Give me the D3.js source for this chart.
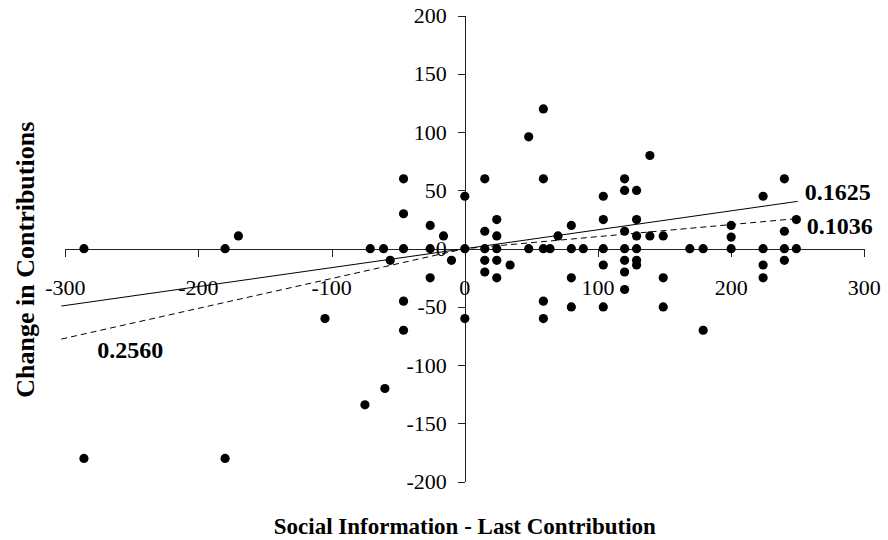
<!DOCTYPE html>
<html>
<head>
<meta charset="utf-8">
<script src="https://cdn.jsdelivr.net/npm/d3@7"></script>
<style>
  body { margin: 0; background: #fff; }
  svg { display: block; font-family: "Liberation Serif", "Times New Roman", serif; }
  .axis path, .axis line { stroke: #222; shape-rendering: crispEdges; }
  .tick-label { font-size: 22px; fill: #000; }
  .title { font-weight: bold; }
  .slope { font-size: 24px; font-weight: bold; }
</style>
</head>
<body>
<div id="chart"></div>
<script>
// social information - last contribution
const xs = [-286, -286, -180, -180, -170, -105, -75, -71, -61, -60, -56,
  -46, -46, -46, -46, -46, -26, -26, -26, -16, -10,
  0, 0, 0, 15, 15, 15, 15, 15, 24, 24, 24, 24, 24, 34, 48, 48,
  59, 59, 59, 59, 59, 64, 70, 80, 80, 80, 80, 89,
  104, 104, 104, 104, 104, 120, 120, 120, 120, 120, 120, 120,
  129, 129, 129, 129, 129, 129, 139, 139, 149, 149, 149, 169, 179, 179,
  200, 200, 200, 224, 224, 224, 224, 240, 240, 240, 240, 249, 249];
// change in contributions
const ys = [0, -180, 0, -180, 11, -60, -134, 0, 0, -120, -10,
  60, 30, 0, -45, -70, 20, 0, -25, 11, -10,
  45, 0, -60, 60, 15, 0, -10, -20, 25, 11, 0, -10, -25, -14, 96, 0,
  120, 60, 0, -45, -60, 0, 11, 20, 0, -25, -50, 0,
  45, 25, 0, -14, -50, 60, 50, 15, 0, -10, -20, -35,
  50, 25, 11, 0, -10, -14, 80, 11, 11, -25, -50, 0, 0, -70,
  20, 10, 0, 45, 0, -14, -25, 60, 15, 0, -10, 25, 0];

const xTicks = [-300, -200, -100, 0, 100, 200, 300];
const yTicks = [-200, -150, -100, -50, 0, 50, 100, 150, 200];

// fitted slopes: overall, and split for negative / positive differences
const slopeAll = 0.1625;
const slopeNeg = 0.2560;
const slopePos = 0.1036;
const fitRange = [-303, 250];

const width = 888, height = 540;
const svg = d3.select("#chart").append("svg")
  .attr("width", width).attr("height", height);

const x = d3.scaleLinear().domain([-300, 300]).range([65.3, 864.3]);
const y = d3.scaleLinear().domain([-200, 200]).range([481.7, 15.7]);

const fmt = d => d < 0 ? "-" + Math.abs(d) : String(d);

// x axis through y = 0 (ticks only, labels drawn below)
svg.append("g").attr("class", "axis")
  .attr("transform", `translate(0,${y(0)})`)
  .call(d3.axisBottom(x).tickValues(xTicks).tickSize(8).tickSizeOuter(0).tickFormat(""));

// y axis through x = 0
svg.append("g").attr("class", "axis")
  .attr("transform", `translate(${x(0)},0)`)
  .call(d3.axisLeft(y).tickValues(yTicks).tickSize(7).tickSizeOuter(0).tickFormat(""));
svg.selectAll(".axis .domain").attr("fill", "none");

svg.append("g").selectAll("text")
  .data(xTicks).enter().append("text")
  .attr("class", "tick-label")
  .attr("x", d => x(d)).attr("y", y(0) + 46)
  .attr("text-anchor", "middle")
  .text(fmt);

svg.append("g").selectAll("text")
  .data(yTicks).enter().append("text")
  .attr("class", "tick-label")
  .attr("x", x(0) - 18).attr("y", d => y(d))
  .attr("dy", "0.34em")
  .attr("text-anchor", "end")
  .text(fmt);

// trend lines
const line = d3.line().x(d => x(d[0])).y(d => y(d[1]));
svg.append("path")
  .datum(fitRange.map(v => [v, slopeAll * v]))
  .attr("d", line).attr("fill", "none").attr("stroke", "#000").attr("stroke-width", 1);
svg.append("path")
  .datum([[fitRange[0], slopeNeg * fitRange[0]], [0, 0], [fitRange[1], slopePos * fitRange[1]]])
  .attr("d", line).attr("fill", "none").attr("stroke", "#000").attr("stroke-width", 1)
  .attr("stroke-dasharray", "6,4");

// points
svg.append("g").selectAll("circle")
  .data(xs.map((v, i) => [v, ys[i]]))
  .enter().append("circle")
  .attr("cx", d => x(d[0]))
  .attr("cy", d => y(d[1]))
  .attr("r", 4.6)
  .attr("fill", "#000");

// slope labels
svg.append("text").attr("class", "slope")
  .attr("x", x(fitRange[1]) + 7).attr("y", y(slopeAll * fitRange[1]) - 1)
  .text(slopeAll.toFixed(4));
svg.append("text").attr("class", "slope")
  .attr("x", x(fitRange[1]) + 9).attr("y", y(slopePos * fitRange[1]) + 15)
  .text(slopePos.toFixed(4));
svg.append("text").attr("class", "slope")
  .attr("x", x(-276)).attr("y", y(-94))
  .text(slopeNeg.toFixed(4));

// axis titles
svg.append("text").attr("class", "title")
  .attr("x", x(0)).attr("y", 534)
  .attr("text-anchor", "middle")
  .style("font-size", "23px")
  .text("Social Information - Last Contribution");
svg.append("text").attr("class", "title")
  .attr("transform", `translate(34,${y(0) + 11}) rotate(-90)`)
  .attr("text-anchor", "middle")
  .style("font-size", "26px")
  .text("Change in Contributions");
</script>
</body>
</html>
